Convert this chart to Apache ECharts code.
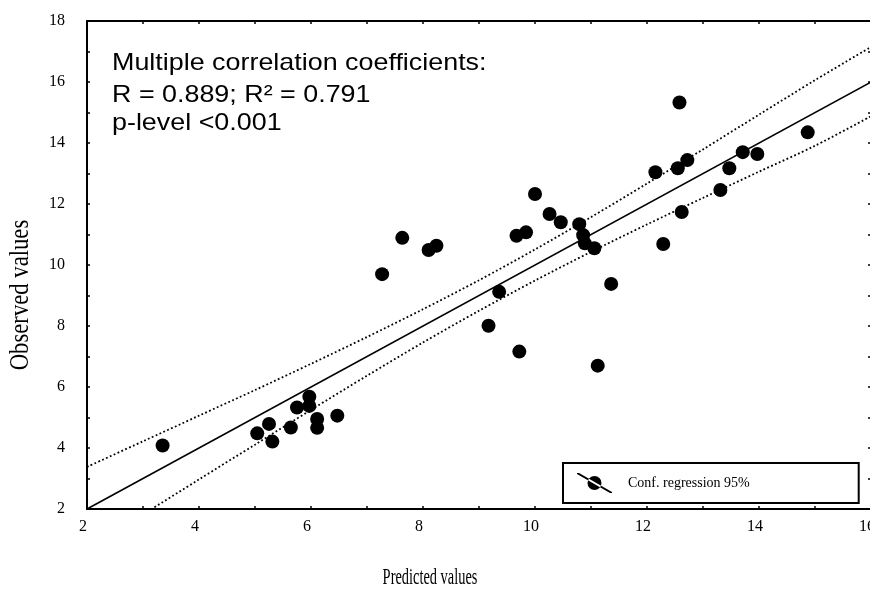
<!DOCTYPE html>
<html>
<head>
<meta charset="utf-8">
<script src="https://cdn.jsdelivr.net/npm/echarts@6/dist/echarts.min.js"></script>
<style>
html,body{margin:0;padding:0;background:#fff;}
#chart{width:870px;height:592px;}
</style>
</head>
<body>
<div id="chart"></div>
<script>
// ---- data ----
const predicted = [3.35, 5.04, 5.25, 5.31, 5.64, 5.75, 5.97, 5.97, 6.11, 6.11, 6.47,
  7.27, 7.63, 8.10, 8.24,
  9.17, 9.36, 9.72, 9.67, 9.84, 10.00, 10.26, 10.46, 10.79, 10.86, 10.89, 11.06, 11.12, 11.36,
  12.15, 12.29, 12.55, 12.58, 12.62, 12.72, 13.31, 13.47, 13.71, 13.97, 14.87];
const observed = [4.08, 4.48, 4.79, 4.21, 4.67, 5.33, 5.68, 5.38, 4.95, 4.66, 5.06,
  9.70, 10.89, 10.49, 10.63,
  8.01, 9.12, 7.16, 10.96, 11.07, 12.33, 11.67, 11.40, 11.34, 10.98, 10.71, 10.55, 6.70, 9.38,
  13.04, 10.69, 13.17, 15.33, 11.74, 13.44, 12.46, 13.17, 13.70, 13.64, 14.35];
const fitX = [2, 16];
const fitY = [2, 16];
const bandX = [2, 3, 4, 5, 6, 7, 8, 9, 10, 11, 12, 13, 14, 15, 16];
const upperBand = [3.38, 4.22, 5.06, 5.90, 6.76, 7.64, 8.55, 9.50, 10.51, 11.57, 12.67, 13.79, 14.93, 16.06, 17.15];
const lowerBand = [0.66, 1.82, 2.97, 4.11, 5.25, 6.37, 7.46, 8.50, 9.49, 10.43, 11.33, 12.20, 13.06, 13.91, 14.88];
const xTickLabels = ['2', '4', '6', '8', '10', '12', '14', '16'];
const yTickLabels = ['2', '4', '6', '8', '10', '12', '14', '16', '18'];
const seriesName = 'Conf. regression 95%';
const xTitle = 'Predicted values';
const yTitle = 'Observed values';
const noteLines = ['Multiple correlation coefficients:', 'R = 0.889; R\u00B2 = 0.791', 'p-level <0.001'];

const pairs = (xs, ys) => xs.map((x, i) => [x, ys[i]]);

const chart = echarts.init(document.getElementById('chart'), null, {renderer: 'canvas'});

const tickFont = {fontFamily: 'Liberation Serif', fontSize: 16, color: '#000'};
const axisBase = (pos, labels, showLabel) => ({
  type: 'value',
  position: pos,
  min: 2,
  max: pos === 'left' || pos === 'right' ? 18 : 16,
  interval: 2,
  axisLine: {show: true, onZero: false, lineStyle: {color: '#000', width: 2}},
  axisTick: {show: true, inside: true, length: 3, lineStyle: {color: '#000', width: 1.5}},
  minorTick: {show: true, splitNumber: 2, length: 3, lineStyle: {color: '#000', width: 1.5}},
  splitLine: {show: false},
  axisLabel: {
    show: showLabel,
    margin: pos === 'left' ? 22 : 10,
    padding: pos === 'bottom' ? [0, 8, 0, 0] : 0,
    formatter: v => labels[labels.indexOf(String(v))] || String(v),
    ...tickFont
  }
});

const option = {
  animation: false,
  backgroundColor: '#fff',
  grid: {left: 87, top: 21, width: 784, height: 488, outerBoundsMode: 'none'},
  xAxis: [axisBase('bottom', xTickLabels, true), axisBase('top', xTickLabels, false)],
  yAxis: [axisBase('left', yTickLabels, true), axisBase('right', yTickLabels, false)],
  legend: {
    data: [seriesName],
    left: 563,
    top: 463,
    orient: 'horizontal',
    borderColor: '#000',
    borderWidth: 2,
    borderRadius: 0,
    padding: [10, 109, 10, 14],
    itemWidth: 35,
    itemHeight: 20,
    icon: 'path://M0,0 L2,0 L35,19 L35,20 L33,20 L0,1 Z M10.5,10 A7,7 0 1,0 24.5,10 A7,7 0 1,0 10.5,10 Z',
    itemStyle: {color: '#000', opacity: 1},
    textStyle: {fontFamily: 'Liberation Serif', fontSize: 14, color: '#000', padding: [0, 0, 0, 11]}
  },
  series: [
    {
      type: 'line', name: 'fit', data: pairs(fitX, fitY), symbol: 'none',
      lineStyle: {color: '#000', width: 1.6}, silent: true, z: 2
    },
    {
      type: 'line', name: 'upper', data: pairs(bandX, upperBand), symbol: 'none', smooth: 0.3,
      lineStyle: {color: '#000', width: 1.8, type: [1.8, 2.4]}, silent: true, clip: true, z: 2
    },
    {
      type: 'line', name: 'lower', data: pairs(bandX, lowerBand), symbol: 'none', smooth: 0.3,
      lineStyle: {color: '#000', width: 1.8, type: [1.8, 2.4]}, silent: true, clip: true, z: 2
    },
    {
      type: 'scatter', name: seriesName, data: pairs(predicted, observed),
      symbol: 'circle', symbolSize: 14, itemStyle: {color: '#000', opacity: 1}, z: 3
    }
  ],
  graphic: [
    {type: 'text', x: 112, y: 63, scaleX: 1.12, style: {text: noteLines[0], font: '24px "Liberation Sans"', fill: '#000', verticalAlign: 'middle'}},
    {type: 'text', x: 112, y: 95, scaleX: 1.12, style: {text: noteLines[1], font: '24px "Liberation Sans"', fill: '#000', verticalAlign: 'middle'}},
    {type: 'text', x: 112, y: 123, scaleX: 1.12, style: {text: noteLines[2], font: '24px "Liberation Sans"', fill: '#000', verticalAlign: 'middle'}},
    {type: 'text', x: 21, y: 295, rotation: Math.PI / 2, scaleX: 0.84,
      style: {text: yTitle, font: '27px "Liberation Serif"', fill: '#000', align: 'center', verticalAlign: 'middle'}},
    {type: 'text', x: 430, y: 578, scaleX: 0.6,
      style: {text: xTitle, font: '24px "Liberation Serif"', fill: '#000', align: 'center', verticalAlign: 'middle'}}
  ]
};
chart.setOption(option);
</script>
</body>
</html>
